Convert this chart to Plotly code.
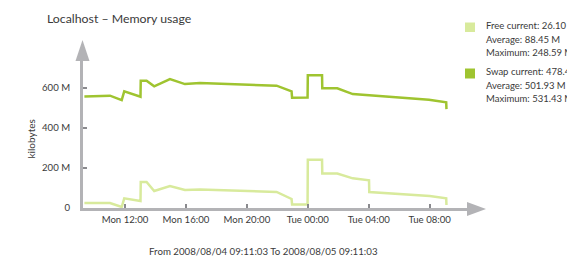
import plotly.graph_objects as go

# ---- data ----
free_times = ["2008-08-04 09:20", "2008-08-04 11:01", "2008-08-04 11:47", "2008-08-04 11:57",
              "2008-08-04 13:01", "2008-08-04 13:02", "2008-08-04 13:25", "2008-08-04 13:55",
              "2008-08-04 14:57", "2008-08-04 15:56", "2008-08-04 16:55", "2008-08-04 21:57",
              "2008-08-04 22:56", "2008-08-04 22:58", "2008-08-04 23:59", "2008-08-05 00:00",
              "2008-08-05 00:56", "2008-08-05 00:57", "2008-08-05 01:56", "2008-08-05 02:57",
              "2008-08-05 04:01", "2008-08-05 04:02", "2008-08-05 08:00", "2008-08-05 09:05",
              "2008-08-05 09:06"]
free_values = [25, 25, 5, 48, 35, 130, 130, 85, 110, 90, 92, 80, 45, 18, 18, 240, 240, 172,
               172, 148, 138, 80, 60, 48, 15]

swap_times = ["2008-08-04 09:20", "2008-08-04 11:01", "2008-08-04 11:47", "2008-08-04 11:57",
              "2008-08-04 13:01", "2008-08-04 13:02", "2008-08-04 13:25", "2008-08-04 13:55",
              "2008-08-04 14:57", "2008-08-04 15:56", "2008-08-04 16:55", "2008-08-04 21:57",
              "2008-08-04 22:56", "2008-08-04 22:58", "2008-08-04 23:59", "2008-08-05 00:00",
              "2008-08-05 00:56", "2008-08-05 00:57", "2008-08-05 01:56", "2008-08-05 02:57",
              "2008-08-05 07:57", "2008-08-05 09:05", "2008-08-05 09:06"]
swap_values = [556, 560, 538, 582, 555, 635, 635, 607, 643, 618, 623, 610, 582, 550, 551, 662,
               662, 597, 597, 568, 540, 527, 493]

x_tick_vals = ["2008-08-04 12:00", "2008-08-04 16:00", "2008-08-04 20:00",
               "2008-08-05 00:00", "2008-08-05 04:00", "2008-08-05 08:00"]
x_tick_text = ["Mon 12:00", "Mon 16:00", "Mon 20:00", "Tue 00:00", "Tue 04:00", "Tue 08:00"]
y_tick_vals = [0, 200, 400, 600]
y_tick_text = ["0", "200 M", "400 M", "600 M"]

legend_free = ["Free current: 26.10 M", "Average: 88.45 M", "Maximum: 248.59 M"]
legend_swap = ["Swap current: 478.45 M", "Average: 501.93 M", "Maximum: 531.43 M"]

title_text = "Localhost – Memory usage"
footer_text = "From 2008/08/04 09:11:03 To 2008/08/05 09:11:03"
y_title = "kilobytes"

# ---- styling ----
W, H = 575, 260
OFF = 8  # page body margin offset
L, R, T, B = 83 - OFF, 468 - OFF, 60 - OFF, 208 - OFF  # plot area in figure pixels
FONT = "Lato"
TXT = "#3a3a3a"
AXIS = "#b3b3b6"
FREE_C = "#d8ea9c"
SWAP_C = "#9fc430"


def px(x):
    # x given in screen pixels
    return (x - OFF - L) / (R - L)


def py(y):
    return (B - (y - OFF)) / (B - T)


fig = go.Figure()
fig.add_trace(go.Scatter(x=free_times, y=free_values, mode="lines",
                         line=dict(color=FREE_C, width=2.5), hoverinfo="skip"))
fig.add_trace(go.Scatter(x=swap_times, y=swap_values, mode="lines",
                         line=dict(color=SWAP_C, width=2.5), hoverinfo="skip"))

shapes = [
    # y-axis arrow head
    dict(type="path", xref="paper", yref="paper",
         path=f"M {px(82.5)} {py(40)} L {px(75.5)} {py(61)} L {px(89.5)} {py(61)} Z",
         fillcolor=AXIS, line=dict(width=0)),
    # x-axis arrow head
    dict(type="path", xref="paper", yref="paper",
         path=f"M {px(486)} {py(209)} L {px(467)} {py(202)} L {px(467)} {py(216)} Z",
         fillcolor=AXIS, line=dict(width=0)),
    # legend squares
    dict(type="rect", xref="paper", yref="paper", x0=px(465), x1=px(475), y0=py(32), y1=py(22.5),
         fillcolor=FREE_C, line=dict(width=0)),
    dict(type="rect", xref="paper", yref="paper", x0=px(465), x1=px(475), y0=py(78.5), y1=py(68.5),
         fillcolor=SWAP_C, line=dict(width=0)),
]

annotations = [
    dict(text=title_text, x=px(45), y=py(18), xref="paper", yref="paper", xanchor="left",
         yanchor="middle", showarrow=False, font=dict(size=12.3, color=TXT, family=FONT)),
    dict(text=footer_text, x=px(263), y=py(250.5), xref="paper", yref="paper", xanchor="center",
         yanchor="middle", showarrow=False, font=dict(size=9.7, color=TXT, family=FONT)),
    dict(text=y_title, x=px(30.5), y=py(139), xref="paper", yref="paper", xanchor="center",
         yanchor="middle", textangle=-90, showarrow=False,
         font=dict(size=10, color=TXT, family=FONT)),
]
for i, t in enumerate(legend_free):
    annotations.append(dict(text=t, x=px(484), y=py(26 + 13 * i), xref="paper", yref="paper",
                            xanchor="left", yanchor="middle", showarrow=False,
                            font=dict(size=9.5, color=TXT, family=FONT)))
for i, t in enumerate(legend_swap):
    annotations.append(dict(text=t, x=px(484), y=py(72 + 13 * i), xref="paper", yref="paper",
                            xanchor="left", yanchor="middle", showarrow=False,
                            font=dict(size=9.5, color=TXT, family=FONT)))

fig.update_layout(
    width=W, height=H,
    margin=dict(l=L, r=W - R, t=T, b=H - B, pad=0),
    paper_bgcolor="white", plot_bgcolor="white",
    showlegend=False,
    font=dict(family=FONT, size=10, color=TXT),
    shapes=shapes,
    annotations=annotations,
    xaxis=dict(type="date", range=["2008-08-04 09:14:35", "2008-08-05 10:30:50"],
               tickvals=x_tick_vals, ticktext=x_tick_text,
               showgrid=False, zeroline=False, showline=True, linecolor=AXIS, linewidth=3,
               ticks="inside", ticklen=4, tickwidth=1.5, tickcolor="#8a8a8e",
               tickfont=dict(size=9.6, color=TXT, family=FONT), fixedrange=True),
    yaxis=dict(range=[0, 738], tickvals=y_tick_vals, ticktext=y_tick_text,
               showgrid=False, zeroline=False, showline=True, linecolor=AXIS, linewidth=3,
               ticks="inside", ticklen=4, tickwidth=1.5, tickcolor="#8a8a8e",
               ticklabelstandoff=8,
               tickfont=dict(size=9.6, color=TXT, family=FONT), fixedrange=True),
)

fig.write_html("out.html", config={"displayModeBar": False})
